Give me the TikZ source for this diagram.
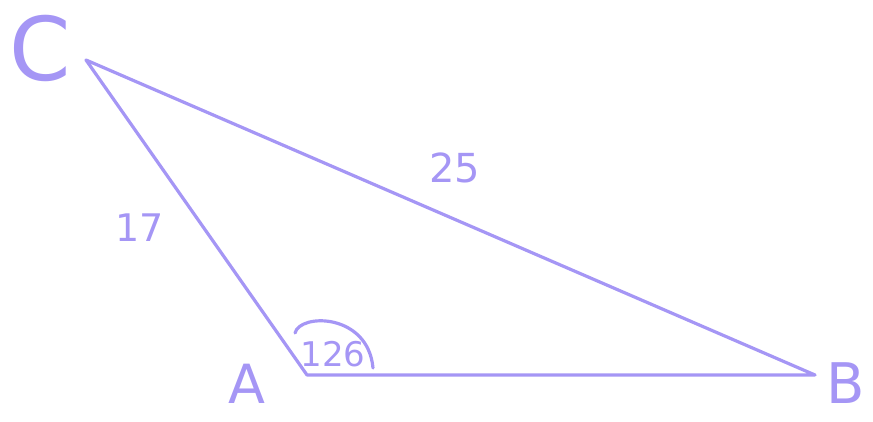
\documentclass[tikz,border=0pt]{standalone}
\usepackage{fontspec}
\setmainfont{DejaVu Sans}
\definecolor{pen}{RGB}{165,150,245}
\begin{document}
\begin{tikzpicture}[x=1pt,y=1pt,
  edge/.style={draw=pen,line width=3.2pt,line cap=round,line join=round},
  lbl/.style={text=pen,inner sep=0pt}]
\useasboundingbox (0,0) rectangle (873,421);
\coordinate (C) at (86,361);
\coordinate (A) at (307,46);
\coordinate (B) at (815,46);
\draw[edge] (C) -- (A) -- (B) -- cycle;
\node[lbl,font=\fontsize{88}{88}\selectfont] (lc) at (40,373) {C};
\node[lbl,font=\fontsize{54}{54}\selectfont] (la) at (247,37) {A};
\node[lbl,font=\fontsize{56}{56}\selectfont] (lb) at (846,38) {B};
\node[lbl,font=\fontsize{38}{38}\selectfont] (l17) at (140,193) {17};
\node[lbl,font=\fontsize{40}{40}\selectfont] (l25) at (455,253) {25};
\node[lbl,font=\fontsize{34}{34}\selectfont] (l126) at (333,67) {126};
\coordinate (a1) at (295,88);
\coordinate (a2) at (373,53);
\draw[edge] (a1) .. controls (300,108) and (368,108) .. (a2);
\end{tikzpicture}
\end{document}
